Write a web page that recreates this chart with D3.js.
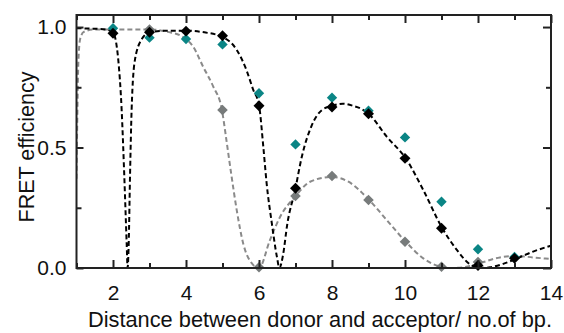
<!DOCTYPE html>
<html><head><meta charset="utf-8">
<script src="https://cdn.jsdelivr.net/npm/d3@7"></script>
<style>body{margin:0;background:#fff}svg{display:block}text{font-family:"Liberation Sans",Arial,sans-serif;fill:#111}</style>
</head><body><svg id="c" width="564" height="333"></svg>
<script>
// Data points (x = no. of bp)
const pointX = [2,3,4,5,6,7,8,9,10,11,12,13];
const blackPts = [0.974,0.978,0.983,0.964,0.673,0.331,0.668,0.640,0.455,0.165,0.010,0.040];
const tealPts  = [0.995,0.956,0.950,0.928,0.725,0.513,0.707,0.653,0.542,0.275,0.078,0.046];
const grayX    = [3,5,6,7,8,9,10,11,12];
const grayPts  = [0.990,0.656,0.003,0.299,0.382,0.282,0.109,0.005,0.025];
// Curves
const blackCurveX = [1.0,1.5,1.8,2.0,2.145,2.237,2.31,2.375,2.40,2.43,2.466,2.51,2.60,2.79,3.0,3.5,4.0,4.5,4.98,5.39,5.66,5.84,6.0,6.12,6.21,6.35,6.49,6.56,6.65,6.78,6.99,7.17,7.44,7.72,7.99,8.3,8.6,8.77,9.01,9.5,10.02,10.5,11.0,11.42,11.78,12.05,12.33,12.69,13.01,13.51,14.0];
const blackCurveY = [0.995,0.993,0.99,0.978,0.863,0.656,0.379,0.10,0.0,0.10,0.38,0.656,0.863,0.95,0.978,0.985,0.985,0.978,0.96,0.905,0.82,0.74,0.676,0.50,0.35,0.187,0.047,0.0,0.047,0.187,0.324,0.46,0.59,0.655,0.672,0.682,0.672,0.663,0.639,0.545,0.455,0.324,0.171,0.075,0.015,0.0,0.003,0.017,0.036,0.068,0.093];
const grayCurveX = [1.0,1.02,1.05,1.1,1.2,1.5,2.0,3.0,3.5,3.9,4.2,4.47,4.75,4.98,5.12,5.25,5.39,5.57,5.8,6.0,6.3,6.58,6.99,7.4,7.99,8.45,9.02,9.5,10.02,10.5,11.0,11.3,11.78,12.05,12.6,13.04,13.5,14.0];
const grayCurveY = [0.37,0.6,0.85,0.95,0.98,0.99,0.99,0.99,0.98,0.96,0.918,0.835,0.752,0.66,0.517,0.379,0.24,0.10,0.02,0.0,0.116,0.213,0.296,0.358,0.378,0.358,0.282,0.199,0.109,0.04,0.005,0.0,0.008,0.02,0.044,0.05,0.044,0.037];
const xTickVals = [2,4,6,8,10,12,14];
const yTickVals = [0.0,0.5,1.0];
const xTitle = "Distance between donor and acceptor/ no.of bp.";
const yTitle = "FRET efficiency";

const svg = d3.select("#c");
const L=76.5, R=551, T=15, B=268;
const x = d3.scaleLinear().domain([1,14]).range([L,R]);
const y = d3.scaleLinear().domain([0,1.05]).range([B,T]);

svg.append("defs").append("clipPath").attr("id","clip")
  .append("rect").attr("x",L).attr("y",T).attr("width",R-L).attr("height",B-T);

const line = d3.line().x(d=>x(d[0])).y(d=>y(d[1])).curve(d3.curveMonotoneX);
const g = svg.append("g").attr("clip-path","url(#clip)");
g.append("path").datum(d3.zip(grayCurveX,grayCurveY)).attr("d",line)
  .attr("fill","none").attr("stroke","#8a8a8a").attr("stroke-width",2).attr("stroke-dasharray","5,3");
g.append("path").datum(d3.zip(blackCurveX,blackCurveY)).attr("d",line)
  .attr("fill","none").attr("stroke","#000").attr("stroke-width",2).attr("stroke-dasharray","5,3");

function pts(xs, ys, color, size){
  const sym = d3.symbol().type(d3.symbolSquare).size(size);
  svg.append("g").selectAll("path").data(d3.zip(xs,ys)).join("path")
    .attr("d",sym).attr("fill",color)
    .attr("transform",d=>`translate(${x(d[0])},${y(d[1])}) rotate(45)`);
}
pts(grayX, grayPts, "#777b7b", 56);
pts(pointX, tealPts, "#0a8585", 54);
pts(pointX, blackPts, "#000", 60);

// Frame
svg.append("rect").attr("x",L).attr("y",T).attr("width",R-L).attr("height",B-T)
  .attr("fill","none").attr("stroke","#222").attr("stroke-width",2);

// Axes with inward ticks
const xMinor = d3.range(1,15);
const yMinor = [0.25,0.75];
const FS = 21;
const bottom = d3.axisBottom(x).tickValues(xTickVals).tickSize(-8).tickPadding(17).tickFormat(d3.format("d"));
const gb = svg.append("g").attr("transform",`translate(0,${B})`).call(bottom);
const gbm = svg.append("g").attr("transform",`translate(0,${B})`).call(d3.axisBottom(x).tickValues(xMinor.filter(v=>v%2===1)).tickSize(-5).tickFormat(""));
const gt = svg.append("g").attr("transform",`translate(0,${T})`).call(d3.axisTop(x).tickValues(xTickVals).tickSize(-8).tickFormat(""));
const gtm = svg.append("g").attr("transform",`translate(0,${T})`).call(d3.axisTop(x).tickValues(xMinor.filter(v=>v%2===1)).tickSize(-5).tickFormat(""));
const gl = svg.append("g").attr("transform",`translate(${L},0)`).call(d3.axisLeft(y).tickValues(yTickVals).tickSize(-7).tickPadding(10).tickFormat(d3.format(".1f")));
const glm = svg.append("g").attr("transform",`translate(${L},0)`).call(d3.axisLeft(y).tickValues(yMinor).tickSize(-5).tickFormat(""));
const gr = svg.append("g").attr("transform",`translate(${R},0)`).call(d3.axisRight(y).tickValues(yTickVals).tickSize(-8).tickFormat(""));
const grm = svg.append("g").attr("transform",`translate(${R},0)`).call(d3.axisRight(y).tickValues(yMinor).tickSize(-5).tickFormat(""));
[gb,gbm,gt,gtm,gl,glm,gr,grm].forEach(a=>{
  a.select(".domain").remove();
  a.selectAll(".tick line").attr("stroke","#222").attr("stroke-width",2);
  a.selectAll("text").attr("font-size",FS).attr("fill","#111").attr("font-family",'"Liberation Sans",Arial,sans-serif');
});

svg.append("text").attr("x",320).attr("y",327).attr("text-anchor","middle").attr("font-size",21.8).text(xTitle);
svg.append("text").attr("transform","translate(34,147) rotate(-90)").attr("text-anchor","middle").attr("font-size",21.5).text(yTitle);
</script></body></html>
